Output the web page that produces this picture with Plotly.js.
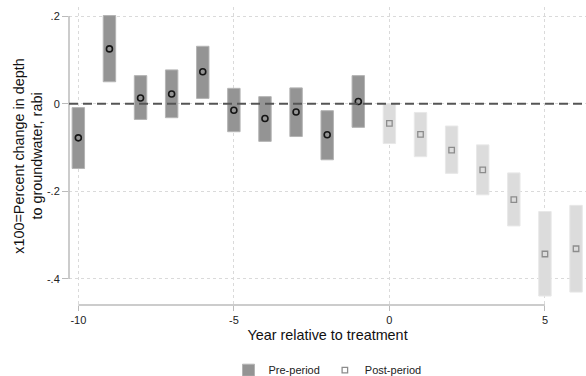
<!DOCTYPE html>
<html>
<head>
<meta charset="utf-8">
<script src="https://cdn.plot.ly/plotly-3.0.1.min.js"></script>
<style>html,body{margin:0;padding:0;background:#fff;}#chart{width:586px;height:376px;}</style>
</head>
<body>
<div id="chart"></div>
<script>
// Pre-period (years -10 .. -1)
var preYears = [-10, -9, -8, -7, -6, -5, -4, -3, -2, -1];
var preEst   = [-0.078, 0.125, 0.013, 0.022, 0.073, -0.015, -0.034, -0.019, -0.071, 0.005];
var preLow   = [-0.148, 0.050, -0.036, -0.032, 0.012, -0.064, -0.086, -0.075, -0.128, -0.054];
var preHigh  = [-0.009, 0.201, 0.064, 0.077, 0.131, 0.035, 0.016, 0.036, -0.016, 0.064];
// Post-period (years 0 .. 6)
var postYears = [0, 1, 2, 3, 4, 5, 6];
var postEst   = [-0.045, -0.070, -0.106, -0.151, -0.219, -0.343, -0.331];
var postLow   = [-0.091, -0.121, -0.159, -0.208, -0.279, -0.439, -0.430];
var postHigh  = [0.000, -0.020, -0.051, -0.094, -0.158, -0.246, -0.232];
// Axis ticks
var xTicks = [-10, -5, 0, 5];
var xTickText = ["-10", "-5", "0", "5"];
var yTicks = [-0.4, -0.2, 0, 0.2];
var yTickText = ["-.4", "-.2", "0", ".2"];

function diff(a, b) { return a.map(function (v, i) { return v - b[i]; }); }

var font = "Liberation Sans, Arial, sans-serif";

var traces = [
  {
    type: "bar", x: preYears, base: preLow, y: diff(preHigh, preLow), width: 0.4,
    name: "Pre-period", showlegend: true, hoverinfo: "skip",
    marker: { color: "#949494", line: { color: "#b4b4b4", width: 1 } }
  },
  {
    type: "bar", x: postYears, base: postLow, y: diff(postHigh, postLow), width: 0.4,
    name: "Post-period bars", showlegend: false, hoverinfo: "skip",
    marker: { color: "#dcdcdc", line: { color: "#e8e8e8", width: 1 } }
  },
  {
    type: "scatter", mode: "markers", x: preYears, y: preEst, showlegend: false,
    marker: { symbol: "circle-open", size: 6, color: "#151515", line: { width: 1.6, color: "#151515" } }
  },
  {
    type: "scatter", mode: "markers", x: postYears, y: postEst, name: "Post-period",
    marker: { symbol: "square-open", size: 5.5, color: "#8c8c8c", line: { width: 1.3, color: "#8c8c8c" } }
  }
];

var layout = {
  width: 586, height: 376,
  margin: { l: 69, r: 0, t: 7, b: 71 },
  paper_bgcolor: "#fff", plot_bgcolor: "#fff",
  font: { family: font, size: 11, color: "#222" },
  barmode: "overlay",
  showlegend: true,
  legend: {
    orientation: "h", xref: "paper", x: 0.5, xanchor: "center",
    yref: "container", y: 0.054, yanchor: "top",
    font: { family: font, size: 11, color: "#222" }, itemwidth: 30,
    traceorder: "normal"
  },
  xaxis: {
    range: [-10.30, 6.32], tickmode: "array", tickvals: xTicks, ticktext: xTickText,
    showgrid: true, gridcolor: "#dadada", griddash: "dot", gridwidth: 1,
    zeroline: false, showline: false, automargin: true,
    ticks: "outside", ticklen: 5, tickcolor: "#bbbbbb", tickwidth: 1,
    tickfont: { family: font, size: 11, color: "#222" },
    title: { text: "Year relative to treatment", font: { family: font, size: 14.4, color: "#111" }, standoff: 4 }
  },
  yaxis: {
    range: [-0.4594, 0.2206], tickmode: "array", tickvals: yTicks, ticktext: yTickText,
    showgrid: true, gridcolor: "#dadada", griddash: "dot", gridwidth: 1,
    zeroline: false, showline: false, automargin: true,
    ticks: "outside", ticklen: 6, tickcolor: "#bbbbbb", tickwidth: 1,
    tickfont: { family: font, size: 11, color: "#222" },
    title: { text: "x100=Percent change in depth<br>to groundwater, rabi", font: { family: font, size: 14.4, color: "#111" }, standoff: 0 }
  },
  shapes: [
    { type: "line", xref: "paper", yref: "y", x0: 0, x1: 0, y0: yTicks[0], y1: yTicks[yTicks.length - 1],
      line: { color: "#bbbbbb", width: 1.5 }, layer: "above" },
    { type: "line", xref: "x", yref: "paper", x0: xTicks[0], x1: xTicks[xTicks.length - 1], y0: 0, y1: 0,
      line: { color: "#bbbbbb", width: 1.5 }, layer: "above" },
    { type: "line", xref: "paper", yref: "y", x0: 0, x1: 1, y0: 0, y1: 0,
      line: { color: "#555555", width: 2, dash: "9px,5px" }, layer: "above" }
  ]
};

Plotly.newPlot("chart", traces, layout, { staticPlot: true, displayModeBar: false });
</script>
</body>
</html>
